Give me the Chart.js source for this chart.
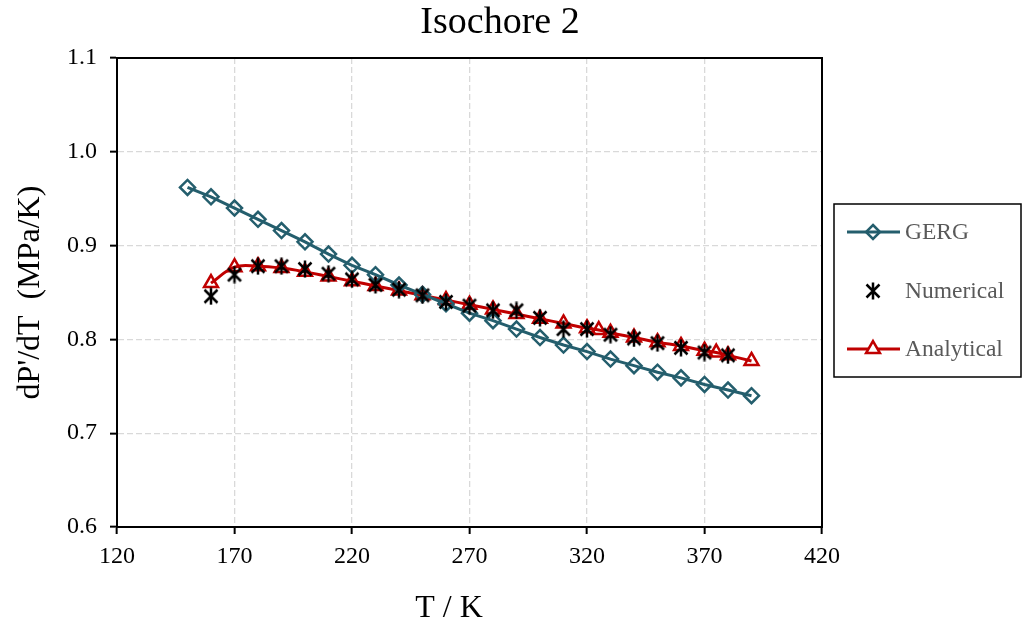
<!DOCTYPE html>
<html><head><meta charset="utf-8">
<script src="https://cdn.jsdelivr.net/npm/chart.js@4"></script>
<style>html,body{margin:0;padding:0;background:#fff;overflow:hidden}</style>
</head><body>
<canvas id="c" width="1023" height="631"></canvas>
<script>
const chartTitle = "Isochore 2";
const xTitle = "T / K";
const yTitle = "dP'/dT  (MPa/K)";
const xTicks = [120, 170, 220, 270, 320, 370, 420];
const yTicks = [0.6, 0.7, 0.8, 0.9, 1.0, 1.1];

const gergT = [150,160,170,180,190,200,210,220,230,240,250,260,270,280,290,300,310,320,330,340,350,360,370,380,390];
const gergV = [0.962,0.952,0.940,0.928,0.916,0.904,0.891,0.879,0.869,0.858,0.848,0.838,0.828,0.820,0.811,0.802,0.794,0.787,0.779,0.772,0.765,0.759,0.752,0.746,0.740];

const numT = [160,170,180,190,200,210,220,230,240,250,260,270,280,290,300,310,320,330,340,350,360,370,380];
const numV = [0.846,0.869,0.878,0.878,0.875,0.870,0.864,0.858,0.853,0.847,0.840,0.836,0.831,0.831,0.823,0.811,0.811,0.805,0.801,0.796,0.791,0.786,0.783];

const anaT = [160,170,180,190,200,210,220,230,240,250,260,270,280,290,300,310,320,325,330,340,350,360,370,375,380,390];
const anaV = [0.860,0.877,0.878,0.876,0.872,0.867,0.862,0.857,0.852,0.847,0.842,0.837,0.832,0.827,0.822,0.817,0.812,0.810,0.807,0.802,0.797,0.793,0.788,0.786,0.783,0.777];

const seriesNames = ["GERG", "Numerical", "Analytical"];
const tealColor = "#245E6D";
const redColor = "#C00000";
const serif = "'Liberation Serif', 'Times New Roman', serif";

function pts(xs, ys){ return xs.map((x,i)=>({x:x, y:ys[i]})); }

function makeAsterisk(){
  const c = document.createElement('canvas');
  c.width = 18; c.height = 18;
  const g = c.getContext('2d');
  g.strokeStyle = '#000'; g.lineWidth = 2.5; g.lineCap = 'butt';
  g.beginPath();
  g.moveTo(2.5,2.5); g.lineTo(15.5,15.5);
  g.moveTo(15.5,2.5); g.lineTo(2.5,15.5);
  g.moveTo(9,0.5); g.lineTo(9,17.5);
  g.stroke();
  return c;
}
const asterisk = makeAsterisk();

const PLOT = {left:117, top:58, right:822, bottom:527};

const decorPlugin = {
  id:'decor',
  beforeDatasetsDraw(chart){
    const ctx = chart.ctx, a = chart.chartArea;
    ctx.save();
    ctx.strokeStyle = '#000'; ctx.lineWidth = 2;
    ctx.strokeRect(a.left, a.top, a.right-a.left, a.bottom-a.top);
    ctx.restore();
  },
  afterDraw(chart){
    const ctx = chart.ctx, a = chart.chartArea;
    ctx.save();
    ctx.fillStyle = '#000';
    ctx.textAlign = 'center'; ctx.textBaseline = 'middle';
    ctx.font = "38px " + serif;
    ctx.fillText(chartTitle, 500, 23);
    ctx.font = "32px " + serif;
    ctx.fillText(xTitle, 449, 609);
    ctx.save();
    ctx.translate(31, (a.top+a.bottom)/2);
    ctx.rotate(-Math.PI/2);
    ctx.fillText(yTitle, 0, 0);
    ctx.restore();
    // legend
    const bx = 834, by = 204, bw = 187, bh = 173;
    ctx.fillStyle = '#fff';
    ctx.fillRect(bx, by, bw, bh);
    ctx.strokeStyle = '#000'; ctx.lineWidth = 1.5;
    ctx.strokeRect(bx, by, bw, bh);
    const rows = [232, 291, 349];
    const mx = 873;
    ctx.font = "23.5px " + serif;
    ctx.textAlign = 'left'; ctx.textBaseline = 'middle';
    ctx.strokeStyle = tealColor; ctx.lineWidth = 3;
    ctx.beginPath(); ctx.moveTo(847, rows[0]); ctx.lineTo(900, rows[0]); ctx.stroke();
    ctx.lineWidth = 2.5;
    ctx.beginPath();
    ctx.moveTo(mx, rows[0]-7); ctx.lineTo(mx+7, rows[0]); ctx.lineTo(mx, rows[0]+7); ctx.lineTo(mx-7, rows[0]); ctx.closePath();
    ctx.stroke();
    ctx.drawImage(asterisk, mx-9, rows[1]-9);
    ctx.strokeStyle = redColor; ctx.lineWidth = 3;
    ctx.beginPath(); ctx.moveTo(847, rows[2]); ctx.lineTo(900, rows[2]); ctx.stroke();
    ctx.lineWidth = 2.5; ctx.fillStyle = '#fff';
    const r = 8;
    ctx.beginPath();
    ctx.moveTo(mx, rows[2]-r);
    ctx.lineTo(mx + r*Math.sin(2*Math.PI/3), rows[2] - r*Math.cos(2*Math.PI/3));
    ctx.lineTo(mx + r*Math.sin(4*Math.PI/3), rows[2] - r*Math.cos(4*Math.PI/3));
    ctx.closePath(); ctx.fill(); ctx.stroke();
    ctx.fillStyle = '#595959';
    seriesNames.forEach((n,i)=>ctx.fillText(n, 905, rows[i]+1));
    ctx.restore();
  }
};

new Chart(document.getElementById('c'), {
  type:'scatter',
  data:{
    datasets:[
      {label:seriesNames[0], data:pts(gergT,gergV), showLine:true, borderColor:tealColor, borderWidth:3,
       pointStyle:'rectRot', pointRadius:7.5, pointBorderWidth:2.5, pointBorderColor:tealColor, pointBackgroundColor:'rgba(255,255,255,0)', tension:0, order:2},
      {label:seriesNames[1], data:pts(numT,numV), showLine:false, pointStyle:asterisk, pointRadius:9, order:1},
      {label:seriesNames[2], data:pts(anaT,anaV), showLine:true, borderColor:redColor, borderWidth:3, tension:0.4,
       pointStyle:'triangle', pointRadius:8, pointBorderWidth:2.5, pointBorderColor:redColor, pointBackgroundColor:'rgba(255,255,255,0)', order:3}
    ]
  },
  options:{
    responsive:false, animation:false, devicePixelRatio:1,
    layout:{padding:{left:0, top:PLOT.top, right:1023-PLOT.right, bottom:0}},
    plugins:{legend:{display:false}, title:{display:false}, tooltip:{enabled:false}},
    scales:{
      x:{type:'linear', min:120, max:420,
        afterBuildTicks(s){ s.ticks = xTicks.map(v=>({value:v})); },
        afterFit(s){ s.height = 631 - PLOT.bottom; },
        grid:{color:'#d9d9d9', lineWidth:1.3, tickColor:'#000', tickWidth:2, tickLength:7, tickBorderDash:[]},
        border:{display:true, color:'#000', width:2, dash:[6,3]},
        ticks:{color:'#000', font:{family:serif, size:24}, padding:8, maxRotation:0, autoSkip:false,
          callback:(v)=>String(v)}
      },
      y:{type:'linear', min:0.6, max:1.1,
        afterBuildTicks(s){ s.ticks = yTicks.map(v=>({value:v})); },
        afterFit(s){ s.width = PLOT.left; },
        grid:{color:'#d9d9d9', lineWidth:1.3, tickColor:'#000', tickWidth:2, tickLength:7, tickBorderDash:[]},
        border:{display:true, color:'#000', width:2, dash:[6,3]},
        ticks:{color:'#000', font:{family:serif, size:24}, padding:13, autoSkip:false,
          callback:(v)=>Number(v).toFixed(1)}
      }
    }
  },
  plugins:[decorPlugin]
});
</script>
</body></html>
